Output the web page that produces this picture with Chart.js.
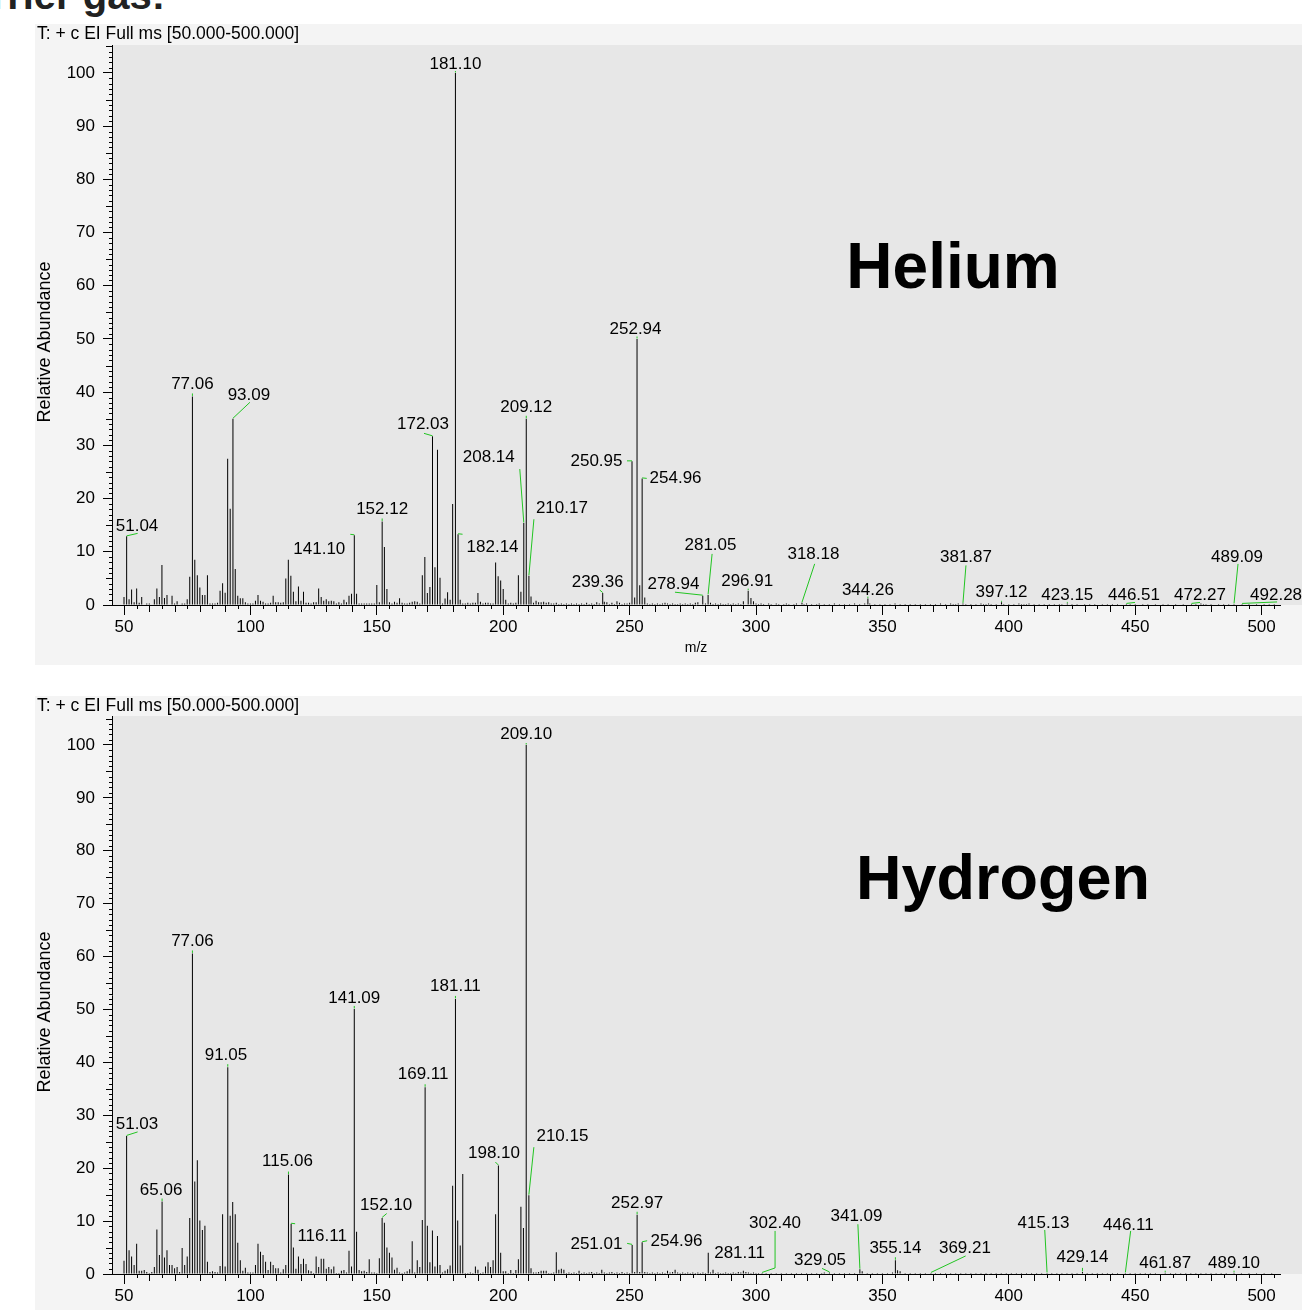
<!DOCTYPE html>
<html>
<head>
<meta charset="utf-8">
<title>EI mass spectra – helium vs hydrogen carrier gas</title>
<script src="https://cdn.jsdelivr.net/npm/chart.js@4.4.1/dist/chart.umd.min.js"></script>
<style>
  html, body { margin: 0; padding: 0; background: #fff; width: 1302px; height: 1310px; overflow: hidden; }
  body { position: relative; font-family: "Liberation Sans", Arial, Helvetica, sans-serif; color: #000; }
  .heading { position: absolute; right: 1137px; top: -25px; font-size: 40px; line-height: 40px; font-weight: bold; color: #222; white-space: nowrap; }
  .panel { position: absolute; left: 35px; width: 1267px; background: #f4f4f4; overflow: hidden; }
  .panel canvas { position: absolute; left: 0; top: 0; }
  .scan { position: absolute; left: 2px; top: 0; font-size: 17.5px; line-height: 18px; white-space: nowrap; z-index: 2; }
  .gas { position: absolute; width: 600px; text-align: center; font-weight: bold; white-space: nowrap; z-index: 2; }
</style>
</head>
<body>
<div class="heading">Carrier gas:</div>

<div class="panel" style="top:24px;height:641px;">
  <canvas id="heliumChart" width="1267" height="641"></canvas>
  <div class="scan">T: + c EI Full ms [50.000-500.000]</div>
  <div class="gas" style="left:618px;top:210px;font-size:64px;line-height:64px;">Helium</div>
</div>

<div class="panel" style="top:696px;height:614px;">
  <canvas id="hydrogenChart" width="1267" height="638"></canvas>
  <div class="scan">T: + c EI Full ms [50.000-500.000]</div>
  <div class="gas" style="left:668px;top:150px;font-size:63px;line-height:63px;">Hydrogen</div>
</div>

<script>
// ---- axis ticks -------------------------------------------------------
const massTicks = [50, 100, 150, 200, 250, 300, 350, 400, 450, 500];
const abundanceTicks = [0, 10, 20, 30, 40, 50, 60, 70, 80, 90, 100];
const massRange = [45.25, 507.28];

// ---- helium carrier gas: [m/z, relative abundance %] ------------------
const heliumSpectrum = [
  [50, 1.5], [51.04, 12.9], [52, 1.1], [53, 2.9], [54, 0.5], [55, 3.1], [56, 0.4], [57, 1.5],
  [59, 0.3], [60, 0.3], [62, 1.1], [63, 3.1], [64, 1.5], [65, 7.5], [66, 1.3], [67, 1.9],
  [69, 1.75], [70, 0.3], [71, 0.7], [73, 0.3], [74, 0.3], [75, 1.1], [76, 5.3], [77.06, 39.2],
  [78, 8.5], [79, 5.6], [80, 3.3], [81, 1.9], [82, 1.9], [83, 5.6], [84, 0.3], [85, 0.3],
  [86, 0.3], [87, 0.4], [88, 2.7], [89, 4.1], [90, 2.3], [91, 27.5], [92, 18.1], [93.09, 35.0],
  [94, 6.75], [95, 1.75], [96, 1.25], [97, 1.25], [98, 0.5], [99, 0.3], [100, 0.3], [101, 0.3],
  [102, 0.8], [103, 1.9], [104, 0.8], [105, 0.6], [106, 0.3], [107, 0.3], [108, 0.4], [109, 1.75],
  [110, 0.5], [111, 0.5], [112, 0.4], [113, 0.5], [114, 5.0], [115, 8.5], [116, 5.5], [117, 2.5],
  [118, 0.7], [119, 3.5], [120, 0.8], [121, 2.5], [122, 0.4], [123, 0.4], [124, 0.3], [125, 0.5],
  [126, 0.5], [127, 3.1], [128, 1.5], [129, 0.8], [130, 1.1], [131, 0.7], [132, 0.8], [133, 0.7],
  [134, 0.3], [135, 0.5], [136, 0.3], [137, 1.0], [138, 0.5], [139, 1.75], [140, 2.1], [141.10, 13.1],
  [142, 2.1], [143, 0.3], [144, 0.3], [145, 0.3], [146, 0.3], [147, 0.3], [148, 0.3], [149, 0.3],
  [150, 3.75], [151, 0.5], [152.12, 15.7], [153, 10.9], [154, 3.0], [155, 0.5], [156, 0.3], [157, 0.6],
  [158, 0.4], [159, 1.25], [160, 0.4], [161, 0.3], [162, 0.3], [163, 0.4], [164, 0.6], [165, 0.7],
  [166, 0.6], [167, 0.3], [168, 5.6], [169, 9.0], [170, 2.25], [171, 3.4], [172.03, 31.7], [173, 7.1],
  [174, 29.2], [175, 5.1], [176, 0.3], [177, 1.2], [178, 2.4], [179, 1.0], [180, 19.0], [181.10, 100],
  [182.14, 13.3], [183, 1.0], [184, 0.3], [185, 0.3], [186, 0.4], [187, 0.3], [188, 0.4], [189, 0.4],
  [190, 2.25], [191, 0.6], [192, 0.3], [193, 0.4], [194, 0.4], [195, 0.3], [196, 0.3], [197, 8.0],
  [198, 5.4], [199, 4.6], [200, 3.0], [201, 1.0], [202, 0.3], [203, 0.4], [204, 0.3], [205, 0.4],
  [206, 5.6], [207, 2.5], [208.14, 15.4], [209.12, 35.0], [210.17, 5.5], [211, 1.6], [212, 0.4], [213, 0.8],
  [214, 0.5], [215, 0.5], [216, 0.6], [217, 0.4], [218, 0.5], [219, 0.3], [220, 0.3], [221, 0.4],
  [222, 0.2], [223, 0.3], [224, 0.2], [225, 0.3], [226, 0.2], [227, 0.3], [228, 0.2], [229, 0.3],
  [230, 0.2], [231, 0.3], [232, 0.2], [233, 0.4], [234, 0.2], [235, 0.3], [236, 0.2], [237, 0.5],
  [238, 0.3], [239.36, 2.25], [240, 0.6], [241, 0.5], [242, 0.2], [243, 0.4], [244, 0.2], [245, 0.7],
  [246, 0.4], [247, 0.2], [248, 0.3], [249, 0.3], [250, 0.4], [250.95, 27.0], [252, 1.4], [252.94, 50.0],
  [254, 3.7], [254.96, 23.8], [256, 1.4], [257, 0.3], [258, 0.2], [259, 0.3], [260, 0.2], [261, 0.3],
  [262, 0.2], [263, 0.3], [264, 0.4], [265, 0.3], [266, 0.2], [267, 0.3], [268, 0.2], [269, 0.2],
  [270, 0.3], [271, 0.2], [272, 0.3], [273, 0.2], [274, 0.3], [275, 0.2], [276, 0.4], [277, 0.5],
  [278.94, 1.75], [280, 0.3], [281.05, 1.9], [282, 0.4], [283, 0.2], [284, 0.3], [285, 0.2], [286, 0.3],
  [287, 0.2], [288, 0.2], [289, 0.3], [290, 0.2], [291, 0.3], [292, 0.2], [293, 0.3], [294, 0.2],
  [295, 0.7], [296.91, 2.7], [298, 1.3], [299, 0.7], [300, 0.3], [301, 0.2], [302, 0.3], [303, 0.2],
  [305, 0.3], [306, 0.2], [308, 0.3], [309, 0.2], [311, 0.2], [312, 0.3], [313, 0.2], [315, 0.2],
  [316, 0.3], [318.18, 0.4], [319, 0.2], [320, 0.3], [322, 0.2], [324, 0.2], [325, 0.3], [327, 0.2],
  [329, 0.2], [331, 0.3], [333, 0.2], [335, 0.2], [337, 0.2], [339, 0.3], [341, 0.2], [343, 0.3],
  [344.26, 1.2], [345, 0.3], [347, 0.2], [349, 0.2], [351, 0.2], [353, 0.2], [355, 0.3], [357, 0.2],
  [359, 0.2], [361, 0.2], [363, 0.2], [365, 0.2], [367, 0.2], [369, 0.2], [371, 0.2], [373, 0.3],
  [375, 0.2], [377, 0.3], [378, 0.2], [379, 0.2], [380, 0.3], [381.87, 0.3], [383, 0.2], [385, 0.2],
  [387, 0.2], [389, 0.3], [390, 0.2], [391, 0.2], [392, 0.3], [393, 0.2], [395, 0.2], [397.12, 0.5],
  [398, 0.2], [400, 0.2], [402, 0.2], [404, 0.3], [405, 0.2], [406, 0.2], [407, 0.2], [408, 0.3],
  [410, 0.2], [412, 0.2], [414, 0.2], [416, 0.2], [418, 0.2], [420, 0.2], [421, 0.2], [423.15, 0.3],
  [425, 0.2], [427, 0.2], [430, 0.2], [432, 0.2], [434, 0.2], [437, 0.2], [439, 0.2], [441, 0.2],
  [443, 0.2], [446.51, 0.2], [448, 0.2], [450, 0.2], [453, 0.2], [455, 0.2], [458, 0.2], [461, 0.2],
  [463, 0.2], [466, 0.2], [469, 0.2], [472.27, 0.2], [474, 0.2], [476, 0.3], [477, 0.2], [478, 0.2],
  [480, 0.2], [483, 0.2], [485, 0.2], [487, 0.2], [489.09, 0.2], [492.28, 0.2], [495, 0.2], [498, 0.2],
  [501, 0.2], [503, 0.2], [505, 0.2]
];
const heliumTagged = [51.04, 77.06, 93.09, 141.10, 152.12, 172.03, 181.10, 182.14, 208.14, 209.12,
  210.17, 239.36, 250.95, 252.94, 254.96, 278.94, 281.05, 296.91, 318.18, 344.26, 381.87, 397.12,
  423.15, 446.51, 472.27, 489.09, 492.28];

// ---- hydrogen carrier gas: [m/z, relative abundance %] ----------------
const hydrogenSpectrum = [
  [50, 2.5], [51.03, 26.1], [52, 4.5], [53, 3.3], [54, 1.7], [55, 5.7], [56, 0.6], [57, 0.6],
  [58, 0.75], [59, 0.4], [60, 0.2], [61, 0.4], [62, 1.3], [63, 8.4], [64, 3.6], [65.06, 13.7],
  [66, 3.1], [67, 4.5], [68, 1.7], [69, 1.7], [70, 1.1], [71, 1.3], [72, 0.4], [73, 4.9],
  [74, 1.7], [75, 3.3], [76, 10.6], [77.06, 60.6], [78, 17.5], [79, 21.5], [80, 10.1], [81, 8.3],
  [82, 9.1], [83, 2.3], [84, 0.4], [85, 0.5], [86, 0.4], [87, 0.3], [88, 1.5], [89, 11.3],
  [90, 1.4], [91.05, 39.1], [92, 11.0], [93, 13.6], [94, 11.3], [95, 5.9], [96, 2.6], [97, 0.6],
  [98, 1.2], [99, 0.3], [100, 0.3], [101, 0.3], [102, 1.7], [103, 5.7], [104, 4.2], [105, 3.6],
  [106, 2.3], [107, 0.75], [108, 2.3], [109, 1.7], [110, 1.1], [111, 1.1], [112, 0.3], [113, 0.9],
  [114, 1.7], [115.06, 18.8], [116.11, 9.5], [117, 5.0], [118, 1.0], [119, 3.3], [120, 1.9], [121, 2.9],
  [122, 1.9], [123, 0.7], [124, 0.5], [125, 0.2], [126, 3.3], [127, 1.3], [128, 2.9], [129, 2.9],
  [130, 1.0], [131, 1.3], [132, 0.9], [133, 1.4], [134, 0.2], [135, 0.2], [136, 0.6], [137, 0.75],
  [138, 0.3], [139, 4.4], [140, 1.4], [141.09, 50.1], [142, 8.0], [143, 0.75], [144, 0.5], [145, 0.6],
  [146, 0.4], [147, 2.8], [148, 0.3], [149, 0.3], [150, 0.2], [151, 3.0], [152.10, 10.6], [153, 9.7],
  [154, 5.0], [155, 4.0], [156, 3.1], [157, 0.8], [158, 1.2], [159, 0.3], [160, 0.2], [161, 0.3],
  [162, 0.5], [163, 0.9], [164, 6.2], [165, 0.3], [166, 2.6], [167, 1.3], [168, 10.2], [169.11, 35.3],
  [170, 9.1], [171, 2.2], [172, 8.2], [173, 1.4], [174, 7.2], [175, 1.7], [176, 0.3], [177, 0.6],
  [178, 0.9], [179, 1.6], [180, 16.7], [181.11, 52.0], [182, 10.1], [183, 5.4], [184, 18.9], [185, 0.2],
  [186, 0.2], [187, 0.3], [188, 0.2], [189, 1.4], [190, 0.8], [191, 0.2], [192, 0.3], [193, 1.4],
  [194, 2.2], [195, 1.3], [196, 2.6], [197, 11.3], [198.10, 20.5], [199, 4.0], [200, 0.5], [201, 0.5],
  [202, 0.2], [203, 0.75], [204, 0.2], [205, 0.75], [206, 2.8], [207, 12.7], [208, 8.7], [209.10, 100],
  [210.15, 14.9], [211, 1.1], [212, 0.3], [213, 0.3], [214, 0.4], [215, 0.6], [216, 0.6], [217, 0.6],
  [218, 0.2], [219, 0.2], [220, 0.3], [221, 4.1], [222, 0.8], [223, 1.0], [224, 0.8], [225, 0.2],
  [226, 0.3], [227, 0.2], [228, 0.3], [229, 0.2], [230, 0.6], [231, 0.2], [232, 0.3], [233, 0.2],
  [234, 0.3], [235, 0.4], [236, 0.2], [237, 0.3], [238, 0.2], [239, 0.8], [240, 0.3], [241, 0.2],
  [242, 0.3], [243, 0.4], [244, 0.2], [245, 0.3], [246, 0.2], [247, 0.4], [248, 0.2], [249, 0.3],
  [250, 0.2], [251.01, 5.5], [252, 0.4], [252.97, 11.2], [254, 0.4], [254.96, 6.0], [256, 0.4], [257, 0.3],
  [258, 0.2], [259, 0.3], [260, 0.2], [261, 0.3], [262, 0.2], [263, 0.3], [264, 0.2], [265, 0.6],
  [266, 0.3], [267, 0.4], [268, 0.8], [269, 0.3], [270, 0.2], [271, 0.3], [272, 0.2], [273, 0.3],
  [274, 0.2], [275, 0.3], [276, 0.2], [277, 0.3], [278, 0.2], [279, 0.3], [280, 0.2], [281.11, 4.0],
  [282, 0.3], [283, 0.8], [284, 0.2], [285, 0.3], [286, 0.2], [287, 0.2], [288, 0.3], [289, 0.2],
  [290, 0.2], [291, 0.3], [292, 0.2], [293, 0.4], [294, 0.3], [295, 0.6], [296, 0.4], [297, 0.3],
  [298, 0.2], [299, 0.3], [300, 0.2], [301, 0.2], [302.40, 0.2], [304, 0.2], [306, 0.2], [308, 0.2],
  [310, 0.2], [312, 0.2], [314, 0.2], [316, 0.2], [318, 0.2], [320, 0.2], [322, 0.2], [324, 0.2],
  [326, 0.2], [327, 0.3], [329.05, 0.3], [331, 0.2], [333, 0.2], [335, 0.2], [337, 0.2], [339, 0.2],
  [341.09, 0.9], [342, 0.5], [344, 0.2], [346, 0.2], [348, 0.2], [350, 0.2], [352, 0.2], [354, 0.3],
  [355.14, 2.6], [356, 0.7], [357, 0.5], [359, 0.2], [361, 0.2], [363, 0.2], [365, 0.2], [367, 0.2],
  [369.21, 0.2], [371, 0.2], [373, 0.2], [375, 0.2], [377, 0.2], [379, 0.2], [381, 0.2], [383, 0.2],
  [385, 0.2], [387, 0.2], [389, 0.2], [391, 0.2], [393, 0.2], [395, 0.2], [397, 0.2], [399, 0.2],
  [401, 0.2], [403, 0.2], [405, 0.2], [407, 0.2], [409, 0.2], [411, 0.2], [413, 0.2], [415.13, 0.2],
  [417, 0.2], [419, 0.2], [421, 0.2], [423, 0.2], [425, 0.2], [427, 0.2], [429.14, 0.4], [431, 0.2],
  [433, 0.2], [435, 0.2], [437, 0.2], [439, 0.2], [441, 0.2], [443, 0.2], [446.11, 0.2], [448, 0.2],
  [450, 0.2], [452, 0.2], [454, 0.2], [456, 0.2], [458, 0.2], [461.87, 0.25], [464, 0.2], [466, 0.2],
  [468, 0.2], [470, 0.2], [472, 0.2], [474, 0.2], [476, 0.2], [478, 0.2], [480, 0.2], [482, 0.2],
  [484, 0.2], [486, 0.2], [489.10, 0.25], [492, 0.2], [495, 0.2], [498, 0.2], [501, 0.2], [504, 0.2]
];
const hydrogenTagged = [51.03, 65.06, 77.06, 91.05, 115.06, 116.11, 141.09, 152.10, 169.11, 181.11,
  198.10, 209.10, 210.15, 251.01, 252.97, 254.96, 281.11, 302.40, 329.05, 341.09, 355.14, 369.21,
  415.13, 429.14, 446.11, 461.87, 489.10];

// ---- label placement (pixels, relative to the top of the tagged peak) --
// [text dx, text dy, leader end dx, leader end dy, optional elbow dx, dy]
const heliumTagPlacement = {
  '51.04': [10.4, -11.4, 11, -3], '77.06': [0, -13.5, 0, -3], '93.09': [16, -25, 17, -16.5],
  '141.10': [-35, 12.7, -4, -1], '152.12': [0, -13.5, 0, -3], '172.03': [-9.5, -13.5, -8.5, -3],
  '181.10': [0, -10.5, 0, -2], '182.14': [34.5, 11.3, 4.5, 0], '208.14': [-35, -67, -4, -54],
  '209.12': [0, -13, 0, -3], '210.17': [33, -68.5, 5, -56.5], '239.36': [-5, -12.5, -3, -3],
  '250.95': [-35.5, -1.4, -5, -0.5], '252.94': [-1.5, -11, 0, -2.5], '254.96': [33.4, -1.4, 4.6, 0],
  '278.94': [-29.3, -12.7, -27.8, -3.5], '281.05': [2.4, -51, 4, -41], '296.91': [-1, -10.6, 0, -2],
  '318.18': [11.5, -50.4, 12.7, -39], '344.26': [0, -10, 0, -2], '381.87': [3, -47.4, 3, -38],
  '397.12': [0, -11, 0, -1.5], '423.15': [0, -9.5, 0, -1.5], '446.51': [7.6, -10, 8.6, -1.5],
  '472.27': [8.5, -10, 8.5, -1.5], '489.09': [3, -48, 4, -40], '492.28': [34, -10, 35, -2]
};
const hydrogenTagPlacement = {
  '51.03': [10.4, -13, 11, -4], '65.06': [-1, -13, 0, -3], '77.06': [0, -13.4, 0, -3],
  '91.05': [-1.8, -13.7, 0, -3], '115.06': [-1, -14.5, 0, -3], '116.11': [31, 11.3, 4, 0],
  '141.09': [0, -12, 0, -3], '152.10': [4, -14, 4.6, -4.4], '169.11': [-2, -14.3, 0, -3],
  '181.11': [0, -14, 0, -3], '198.10': [-4.4, -14, -3, -3.5], '209.10': [0, -12, 0, -2],
  '210.15': [33.6, -60.7, 5, -48], '251.01': [-35.7, -2.4, -5, -1.5], '252.97': [0, -13, 0, -3],
  '254.96': [34.4, -2.3, 5, -1.5], '281.11': [31.3, -1.3, 0, 0], '302.40': [13, -51.4, 13, -42, 13, -5],
  '329.05': [-9.4, -14, -7.4, -4], '341.09': [-3.4, -54, -2, -45], '355.14': [0, -13.7, 0, -3],
  '369.21': [34, -26.4, 34.7, -17], '415.13': [-3.5, -51, -2.3, -43], '429.14': [0, -16, 0, -4],
  '446.11': [3, -49, 5.3, -42], '461.87': [0, -11, 0, -2], '489.10': [0, -11, 0, -2]
};

const FONT = '"Liberation Sans", Arial, Helvetica, sans-serif';
const LEADER = '#22c522';

// Plot background, minor ticks, the abundance axis title and peak tags.
const spectrumDecor = {
  id: 'spectrumDecor',
  beforeDraw(chart) {
    const { ctx, chartArea: a } = chart;
    ctx.save();
    ctx.fillStyle = '#e7e7e7';
    ctx.fillRect(a.left, a.top, chart.width - a.left, a.bottom - a.top);
    ctx.restore();
  },
  afterDraw(chart, args, opts) {
    const { ctx, chartArea: a, scales: { x, y } } = chart;
    ctx.save();
    ctx.strokeStyle = '#000';
    ctx.lineWidth = 1;
    ctx.beginPath();
    for (let v = 1; v <= 105; v++) {
      if (v % 10 === 0) continue;
      const py = Math.round(y.getPixelForValue(v)) + 0.5;
      if (py < a.top) break;
      const len = v % 5 === 0 ? 6 : 3;
      ctx.moveTo(a.left - len, py);
      ctx.lineTo(a.left, py);
    }
    for (let v = 55; v <= 505; v += 5) {
      if (v % 50 === 0) continue;
      const px = Math.round(x.getPixelForValue(v)) + 0.5;
      const len = v % 10 === 0 ? 7 : 4;
      ctx.moveTo(px, a.bottom);
      ctx.lineTo(px, a.bottom + len);
    }
    ctx.stroke();

    // rotated abundance title
    ctx.fillStyle = '#000';
    ctx.font = '18px ' + FONT;
    ctx.textAlign = 'center';
    ctx.textBaseline = 'middle';
    ctx.translate(10, (a.top + a.bottom) / 2 + 17);
    ctx.rotate(-Math.PI / 2);
    ctx.fillText('Relative Abundance', 0, 0);
    ctx.restore();

    // peak tags with green leaders
    const { spectrum, tagged, placement } = opts;
    ctx.save();
    ctx.font = '17px ' + FONT;
    ctx.fillStyle = '#000';
    ctx.textAlign = 'center';
    ctx.textBaseline = 'alphabetic';
    ctx.strokeStyle = LEADER;
    ctx.lineWidth = 1;
    tagged.forEach(mz => {
      const peak = spectrum.find(p => p[0] === mz);
      if (!peak) return;
      const text = mz.toFixed(2);
      const place = placement[text];
      const px = x.getPixelForValue(peak[0]);
      const py = y.getPixelForValue(peak[1]);
      const [dx, dy, lx, ly, ex, ey] = place;
      if (lx !== 0 || ly !== 0) {
        ctx.beginPath();
        ctx.moveTo(px, py - 0.5);
        if (ex !== undefined) ctx.lineTo(px + ex, py + ey);
        ctx.lineTo(px + lx, py + ly);
        ctx.stroke();
      }
      ctx.fillText(text, px + dx, py + dy + 6.1);
    });
    ctx.restore();
  }
};

function buildSpectrum(canvasId, spectrum, tagged, placement, padTop, yMax) {
  return new Chart(document.getElementById(canvasId), {
    type: 'bar',
    data: {
      datasets: [{
        data: spectrum.map(([mz, ab]) => ({ x: mz, y: ab })),
        backgroundColor: '#000',
        borderWidth: 0,
        barThickness: 1,
        inflateAmount: 0
      }]
    },
    options: {
      responsive: false,
      animation: false,
      devicePixelRatio: 1,
      layout: { padding: { top: padTop, right: 22, left: 0, bottom: 0 } },
      plugins: {
        legend: { display: false },
        tooltip: { enabled: false },
        spectrumDecor: { spectrum, tagged, placement }
      },
      scales: {
        x: {
          type: 'linear',
          min: massRange[0],
          max: massRange[1],
          offset: false,
          afterBuildTicks: s => { s.ticks = massTicks.map(v => ({ value: v })); },
          afterFit: s => { s.height = 60; },
          grid: { display: true, drawOnChartArea: false, drawTicks: true, tickLength: 10, color: '#000', offset: false },
          border: { display: true, color: '#000', width: 1 },
          ticks: { font: { family: FONT, size: 17 }, color: '#000', padding: 2, maxRotation: 0, autoSkip: false },
          title: { display: true, text: 'm/z', font: { family: FONT, size: 14 }, color: '#000', padding: { top: 0, bottom: 8 } }
        },
        y: {
          type: 'linear',
          min: 0,
          max: yMax,
          afterBuildTicks: s => { s.ticks = abundanceTicks.map(v => ({ value: v })); },
          afterFit: s => { s.width = 77; },
          grid: { display: true, drawOnChartArea: false, drawTicks: true, tickLength: 9, color: '#000' },
          border: { display: true, color: '#000', width: 1 },
          ticks: { font: { family: FONT, size: 17 }, color: '#000', padding: 8 }
        }
      }
    },
    plugins: [spectrumDecor]
  });
}

buildSpectrum('heliumChart', heliumSpectrum, heliumTagged, heliumTagPlacement, 21, 105.26);
buildSpectrum('hydrogenChart', hydrogenSpectrum, hydrogenTagged, hydrogenTagPlacement, 20, 105.48);
</script>
</body>
</html>
